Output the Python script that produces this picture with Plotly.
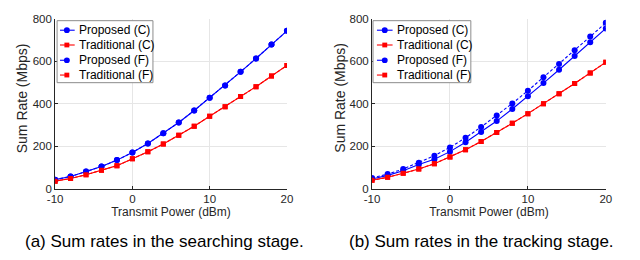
import plotly.graph_objects as go

power = [-10, -8, -6, -4, -2, 0, 2, 4, 6, 8, 10, 12, 14, 16, 18, 20]

# (a) searching stage
a_prop_c = [42, 57, 80, 104, 134, 170, 212, 260, 311, 368, 428, 486, 550, 613, 679, 743]
a_trad_c = [35, 47, 65, 86, 108, 140, 173, 210, 251, 294, 341, 386, 434, 480, 530, 580]
a_prop_f = [42, 57, 80, 104, 134, 170, 212, 260, 311, 368, 428, 486, 550, 613, 679, 743]
a_trad_f = [35, 47, 65, 86, 108, 140, 173, 210, 251, 294, 341, 386, 434, 480, 530, 580]

# (b) tracking stage
b_prop_c = [45, 62, 84, 113, 138, 174, 218, 266, 318, 375, 435, 497, 560, 625, 689, 754]
b_trad_c = [39, 53, 72, 92, 117, 149, 183, 222, 264, 308, 353, 399, 447, 495, 545, 595]
b_prop_f = [50, 68, 92, 122, 155, 194, 239, 290, 344, 401, 461, 524, 587, 652, 716, 781]
b_trad_f = [39, 53, 72, 92, 117, 149, 183, 222, 264, 308, 353, 399, 447, 495, 545, 595]

x_ticks = [-10, 0, 10, 20]
x_ticktext = ["-10", "0", "10", "20"]
y_ticks = [0, 200, 400, 600, 800]
legend_names = ["Proposed (C)", "Traditional (C)", "Proposed (F)", "Traditional (F)"]
captions = ["(a) Sum rates in the searching stage.", "(b) Sum rates in the tracking stage."]
x_title = "Transmit Power (dBm)"
y_title = "Sum Rate (Mbps)"

BLUE = "#0000FF"
RED = "#FF0000"
FONT = "Liberation Sans"
TXT = "#262626"
W, H = 640, 260

def px(x):
    return x / W

def py(y):
    return 1 - y / H

fig = go.Figure()

styles = [
    (BLUE, "circle", "solid", 6),
    (RED, "square", "solid", 5),
    (BLUE, "circle", "3px,2px", 6),
    (RED, "square", "3px,2px", 5),
]

panels = [
    ("x", "y", [a_prop_c, a_trad_c, a_prop_f, a_trad_f]),
    ("x2", "y2", [b_prop_c, b_trad_c, b_prop_f, b_trad_f]),
]

for xa, ya, series in panels:
    for name, vals, (col, sym, dash, ms) in zip(legend_names, series, styles):
        fig.add_trace(go.Scatter(
            x=power, y=vals, name=name, xaxis=xa, yaxis=ya, mode="lines+markers",
            line=dict(color=col, width=1.1, dash=dash),
            marker=dict(color=col, symbol=sym, size=ms, line=dict(width=0)),
            showlegend=False,
        ))

axis_common = dict(
    showgrid=True, gridcolor="#e6e6e6", gridwidth=1,
    showline=True, linecolor=TXT, linewidth=1,
    ticks="inside", ticklen=3, tickcolor=TXT, tickwidth=1,
    tickfont=dict(family=FONT, size=11.5, color=TXT),
    ticklabeloverflow="allow",
    zeroline=False,
)

xdomains = [(px(40), px(277)), (px(364), px(603))]
ydomain = (py(183), py(5))

layout = dict(
    width=W, height=H, margin=dict(l=0, r=0, t=0, b=0),
    paper_bgcolor="white", plot_bgcolor="white",
    font=dict(family=FONT, color=TXT),
    showlegend=False,
)
for i, xd in enumerate(xdomains):
    sfx = "" if i == 0 else "2"
    layout["xaxis" + sfx] = dict(
        axis_common, domain=list(xd), range=[-10, 20], tickvals=x_ticks, ticktext=x_ticktext,
        anchor="y" + sfx,
        title=dict(text=x_title, font=dict(family=FONT, size=12, color=TXT), standoff=2),
    )
    layout["yaxis" + sfx] = dict(
        axis_common, domain=list(ydomain), range=[0, 800], tickvals=y_ticks,
        anchor="x" + sfx,
    )
fig.update_layout(**layout)

shapes = []
annotations = []

# y-axis titles
for yx in [6.5, 331]:
    annotations.append(dict(text=y_title, xref="paper", yref="paper", x=px(yx), y=py(88),
                            xanchor="center", yanchor="middle", textangle=-90, showarrow=False,
                            font=dict(family=FONT, size=14, color=TXT)))

# manual legends (MATLAB-style compact)
legend_boxes = [(42, 140, 62), (365, 465, 387)]
line_spans = [(45, 60, 52), (369, 385, 377)]
entry_y = [17, 32.5, 48.5, 64]
for (bx0, bx1, tx), (lx0, lx1, mx) in zip(legend_boxes, line_spans):
    shapes.append(dict(type="rect", xref="paper", yref="paper",
                       x0=px(bx0), x1=px(bx1), y0=py(72), y1=py(7),
                       line=dict(color="#8c8c8c", width=1), fillcolor="white", layer="above"))
    for name, ey, (col, sym, dash, ms) in zip(legend_names, entry_y, styles):
        shapes.append(dict(type="line", xref="paper", yref="paper",
                           x0=px(lx0), x1=px(lx1), y0=py(ey), y1=py(ey),
                           line=dict(color=col, width=1.1, dash="dash" if dash != "solid" else "solid"),
                           layer="above"))
        r = ms / 2
        shapes.append(dict(type="circle" if sym == "circle" else "rect", xref="paper", yref="paper",
                           x0=px(mx - r), x1=px(mx + r), y0=py(ey + r), y1=py(ey - r),
                           line=dict(width=0), fillcolor=col, layer="above"))
        annotations.append(dict(text=name, xref="paper", yref="paper", x=px(tx), y=py(ey),
                                xanchor="left", yanchor="middle", showarrow=False,
                                font=dict(family=FONT, size=12, color="black")))

# captions
for cap, cx in zip(captions, [152, 476]):
    annotations.append(dict(text=cap, xref="paper", yref="paper", x=px(cx), y=py(238),
                            xanchor="center", yanchor="middle", showarrow=False,
                            font=dict(family=FONT, size=17, color="black")))

# cropped bracket fragments at right edge
shapes.append(dict(type="path", xref="paper", yref="paper",
                   path=f"M {px(640)} {py(171)} L {px(637)} {py(171)} L {px(637)} {py(183)} L {px(640)} {py(183)}",
                   line=dict(color="#333", width=1.5)))
shapes.append(dict(type="path", xref="paper", yref="paper",
                   path=f"M {px(640)} {py(256)} L {px(637)} {py(256)} L {px(637)} {py(260)}",
                   line=dict(color="#333", width=1.5)))

fig.update_layout(shapes=shapes, annotations=annotations)
fig.write_html("out.html")
